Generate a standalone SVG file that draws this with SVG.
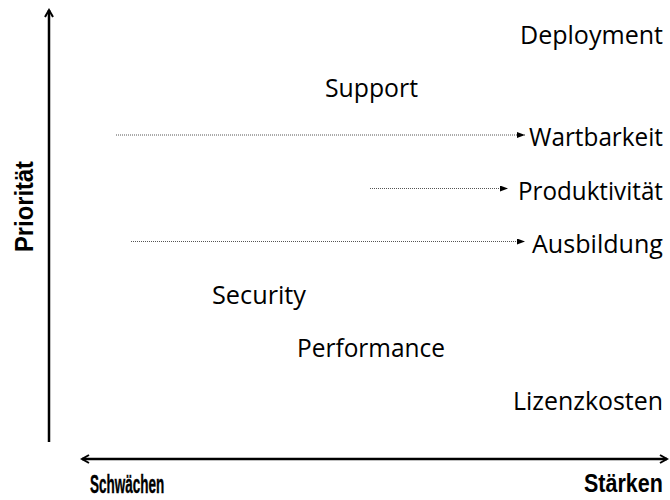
<svg xmlns="http://www.w3.org/2000/svg" width="670" height="500" viewBox="0 0 670 500">
  <style>
    .lbl { font-family: "Open Sans", "Liberation Sans", sans-serif; font-size: 25px; fill: #000; }
    .ax { font-family: "Liberation Sans", "Arial", sans-serif; font-weight: bold; font-size: 25px; fill: #000; }
    .axis { stroke: #000; stroke-width: 2.5; fill: none; }
    .dot { stroke: #555; stroke-width: 1; stroke-dasharray: 1 1; fill: none; }
  </style>
  <defs>
    <marker id="open" viewBox="0 0 10 10" refX="8" refY="5" markerWidth="10" markerHeight="10" markerUnits="userSpaceOnUse" orient="auto-start-reverse">
      <path d="M1,1 L8,5 L1,9" fill="none" stroke="#000" stroke-width="2"/>
    </marker>
    <marker id="tri" viewBox="0 0 8 6" refX="8" refY="3" markerWidth="8" markerHeight="6" markerUnits="userSpaceOnUse" orient="auto">
      <path d="M0,0 L8,3 L0,6 Z" fill="#000"/>
    </marker>
  </defs>

  <g id="axes">
    <line class="axis" x1="49" y1="442" x2="49" y2="10" marker-end="url(#open)"/>
    <line class="axis" x1="82" y1="459" x2="667" y2="459" marker-start="url(#open)" marker-end="url(#open)"/>
    <text class="ax" transform="translate(33,206.5) rotate(-90) scale(0.95,1)" text-anchor="middle">Priorität</text>
    <text class="ax" transform="translate(90,493) scale(0.54,1)" font-size="28" stroke="#000" stroke-width="0.4">Schwächen</text>
    <text class="ax" transform="translate(584,492) scale(0.86,1)">Stärken</text>
  </g>

  <g id="connectors">
    <line class="dot" x1="116" y1="135" x2="525" y2="135" marker-end="url(#tri)"/>
    <line class="dot" x1="370" y1="188.5" x2="508" y2="188.5" marker-end="url(#tri)"/>
    <line class="dot" x1="131" y1="241.5" x2="525" y2="241.5" marker-end="url(#tri)"/>
  </g>

  <g id="deployment"><text class="lbl" x="520" y="43.5" textLength="143" lengthAdjust="spacingAndGlyphs">Deployment</text></g>
  <g id="support"><text class="lbl" x="325" y="96.5" textLength="93" lengthAdjust="spacingAndGlyphs">Support</text></g>
  <g id="wartbarkeit"><text class="lbl" x="529" y="146" textLength="134" lengthAdjust="spacingAndGlyphs">Wartbarkeit</text></g>
  <g id="produktivitaet"><text class="lbl" x="518" y="199.5" textLength="145" lengthAdjust="spacingAndGlyphs">Produktivität</text></g>
  <g id="ausbildung"><text class="lbl" x="532" y="252.5" textLength="131" lengthAdjust="spacingAndGlyphs">Ausbildung</text></g>
  <g id="security"><text class="lbl" x="212" y="304" textLength="94" lengthAdjust="spacingAndGlyphs">Security</text></g>
  <g id="performance"><text class="lbl" x="297" y="357" textLength="148" lengthAdjust="spacingAndGlyphs">Performance</text></g>
  <g id="lizenzkosten"><text class="lbl" x="513" y="410" textLength="150" lengthAdjust="spacingAndGlyphs">Lizenzkosten</text></g>
</svg>
